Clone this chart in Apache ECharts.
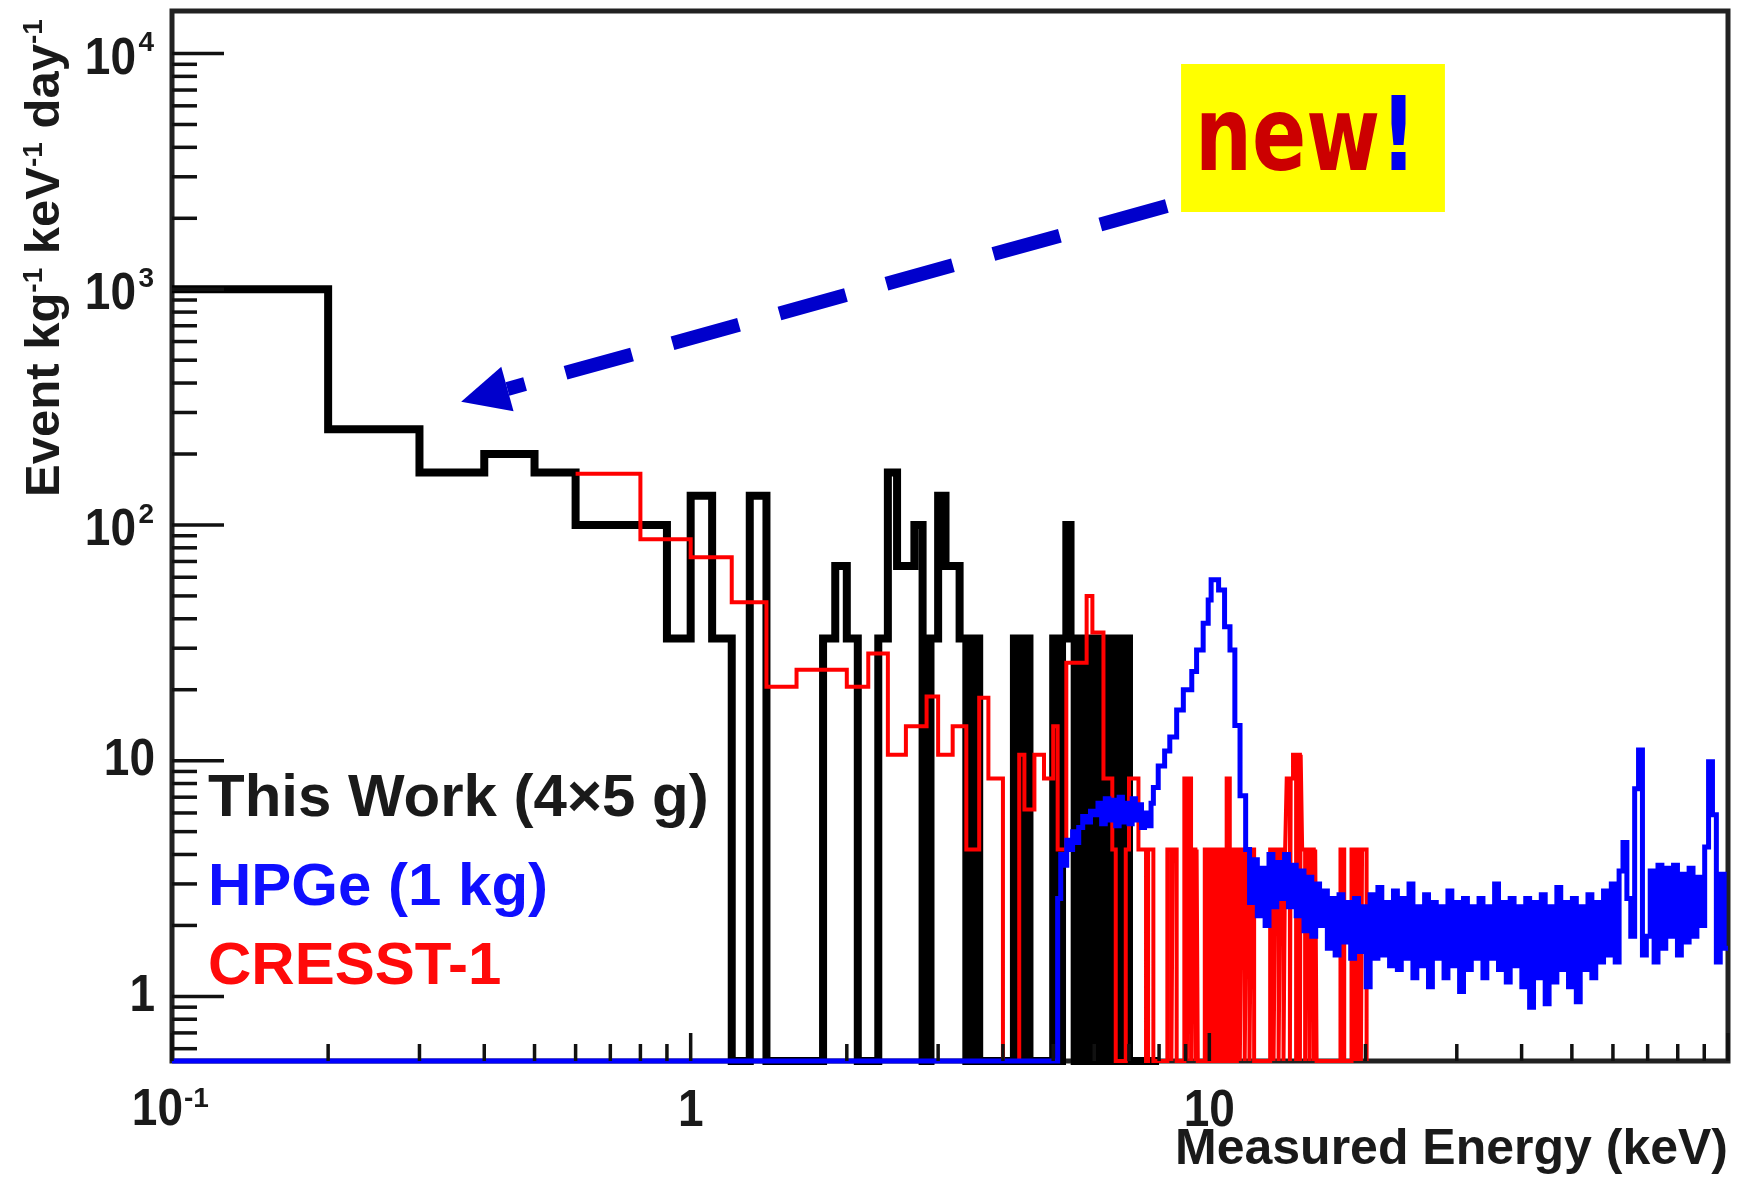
<!DOCTYPE html>
<html>
<head>
<meta charset="utf-8">
<title>Measured energy spectra</title>
<script src="https://cdn.jsdelivr.net/npm/echarts@6.0.0/dist/echarts.min.js"></script>
<style>
  html, body { margin: 0; padding: 0; background: #ffffff; }
  #chart { width: 1742px; height: 1178px; }
</style>
</head>
<body>
<div id="chart"></div>
<script>
// Axis ranges: energy in keV, rate in events kg^-1 keV^-1 day^-1
const X_MIN = 0.1, X_MAX = 100;
const Y_MIN = 0.532, Y_MAX = 15150;

// This Work (4×5 g): 0.1 keV wide bins starting at 0.1 keV
const thisWorkFirstEdge = 0.1;
const thisWorkBinWidth = 0.1;
const thisWorkRates = [
  1000, 255, 167, 200, 167, 100, 100, 100, 33, 133,   // bins from 0.1 .. 1.0 keV
  33, 0, 133, 0, 0, 0, 0, 33, 67, 33,                 // 1.1 .. 2.0
  0, 0, 33, 167, 67, 67, 100, 0, 33, 133,             // 2.1 .. 3.0
  67, 67, 33, 0, 33, 0, 0, 0, 0, 0,                   // 3.1 .. 4.0
  0, 33, 0, 33, 0, 0, 0, 0, 0, 33,                    // 4.1 .. 5.0
  0, 33, 100, 33, 0, 33, 0, 33, 0, 33,                // 5.1 .. 6.0
  0, 33, 0, 33, 0, 33, 0, 33, 33, 0,                  // 6.1 .. 7.0
  0, 0, 0, 0, 0, 0, 0, 0, 0                           // 7.1 .. 7.9
];

// CRESST-1: bin edges (keV, last entry closes the final bin) and rates
const cresstEdges = [
  0.6, 0.8, 1.0, 1.2, 1.4, 1.6, 2.0, 2.2, 2.4, 2.6,
  2.85, 3.0, 3.2, 3.4, 3.6, 3.75, 4.0, 4.3, 4.4, 4.6,
  4.8, 5.0, 5.1, 5.3, 5.8, 5.95, 6.25, 6.5, 6.6, 6.9,
  7.0, 7.3, 7.55, 7.62, 7.8, 8.3, 8.45, 8.5, 8.65, 8.95,
  9.05, 9.12, 9.22, 9.3, 9.4, 9.45, 9.5, 9.8, 9.95, 10.05,
  10.2, 10.3, 10.45, 10.55, 10.7, 10.8, 10.95, 11.05, 11.2, 11.3,
  11.45, 11.55, 11.7, 11.8, 11.95, 12.05, 12.2, 13.1, 13.3, 13.4,
  13.6, 13.7, 13.9, 14.0, 14.1, 14.3, 14.35, 14.5, 14.7, 14.75,
  14.95, 15.0, 15.1, 15.3, 15.4, 15.6, 15.7, 15.9, 16.0, 16.1,
  17.9, 18.2, 18.8, 19.0, 19.1, 19.3, 19.4, 19.6, 19.7, 20.1,
  20.15
];
const cresstRates = [
  165, 87, 73, 47, 20.6, 24.3, 20.6, 28.5, 10.6, 14,
  18.7, 10.6, 14, 4.2, 18.5, 8.4, 0, 10.6, 6.2, 10.6,
  8.4, 14, 4.2, 26, 50, 35, 8.4, 4.2, 0, 4.2,
  8.4, 4.2, 0, 4.2, 0, 4.2, 0, 4.2, 0, 8.4,
  0, 8.4, 0, 4.2, 0, 4.2, 0, 4.2, 0, 4.2,
  0, 4.2, 0, 4.2, 0, 8.4, 0, 4.2, 0, 4.2,
  0, 4.2, 0, 4.2, 0, 4.2, 0, 4.2, 0, 4.2,
  0, 4.2, 0, 4.2, 8.4, 0, 8.4, 10.6, 0, 10.6,
  0, 10.6, 4.2, 0, 4.2, 0, 4.2, 0, 4.2, 0,
  4.2, 0, 4.2, 0, 4.2, 0, 4.2, 0, 4.2, 0
];

// HPGe (1 kg) up to the end of the 10.4 keV Ge line
const hpgeEdges = [
  0.1, 5.1, 5.17, 5.24, 5.31, 5.38, 5.45, 5.52, 5.6, 5.7,
  5.8, 5.9, 6.0, 6.1, 6.2, 6.3, 6.4, 6.5, 6.6, 6.7,
  6.8, 6.9, 7.0, 7.1, 7.2, 7.3, 7.4, 7.5, 7.6, 7.72,
  7.8, 7.97, 8.2, 8.39, 8.65, 8.91, 9.25, 9.45, 9.73, 9.95,
  10.08, 10.42, 10.7, 10.96, 11.2, 11.46
];
const hpgeRates = [
  0, 2.6, 4.0, 3.6, 4.6, 4.2, 5.0, 4.5, 5.2, 5.8,
  5.5, 6.1, 5.9, 6.6, 5.4, 6.9, 5.6, 6.8, 5.3, 7.0,
  5.5, 6.6, 5.4, 6.9, 5.6, 6.5, 5.2, 6.0, 5.3, 6.6,
  7.7, 9.5, 11.0, 12.6, 16.4, 20.0, 23.9, 29.5, 38.3, 48,
  58.5, 53, 37, 29.5, 14.1, 7.1
];

// HPGe (1 kg) continuum from 11.75 keV to 100 keV in logarithmic bins
const hpgeContinuumStart = 11.75;
const hpgeContinuumLogWidth = 0.0075;
const hpgeContinuumRates = [
  4.2, 2.5, 3.8, 2.2, 3.5, 2.0, 4.0, 2.4, 3.7, 2.6,
  4.0, 2.4, 3.6, 2.2, 3.4, 1.9, 3.2, 1.8, 3.0, 2.0,
  2.8, 1.6, 2.6, 1.5, 2.7, 1.7, 2.5, 1.45, 2.6, 1.55,
  2.4, 1.1, 2.7, 1.45, 2.9, 1.5, 2.5, 1.35, 2.8, 1.3,
  2.6, 1.45, 3.0, 1.2, 2.4, 1.35, 2.7, 1.1, 2.5, 1.45,
  2.4, 1.2, 2.8, 1.35, 2.5, 1.05, 2.6, 1.3, 2.4, 1.45,
  2.6, 1.2, 2.4, 1.45, 3.0, 1.3, 2.5, 1.15, 2.6, 1.35,
  2.4, 1.1, 2.6, 0.9, 2.5, 1.2, 2.7, 0.93, 2.4, 1.15,
  2.9, 1.3, 2.5, 1.1, 2.6, 0.95, 2.4, 1.3, 2.7, 1.2,
  2.5, 1.4, 2.8, 1.5, 3.0, 1.4, 3.4, 4.5, 2.6, 1.8,
  7.6, 11.1, 1.5, 1.8, 3.4, 1.4, 3.6, 1.6, 3.5, 1.8,
  3.6, 1.5, 3.3, 1.7, 3.5, 1.8, 3.2, 2.0, 4.3, 9.9,
  5.9, 1.4, 3.3, 1.6
];

// Axis ticks and labels
const xMajorTicks = [0.1, 1, 10, 100];
const xMinorTicks = [0.2, 0.3, 0.4, 0.5, 0.6, 0.7, 0.8, 0.9,
                     2, 3, 4, 5, 6, 7, 8, 9,
                     20, 30, 40, 50, 60, 70, 80, 90];
const yMajorTicks = [1, 10, 100, 1000, 10000];
const yMinorTicks = [0.6, 0.7, 0.8, 0.9,
                     2, 3, 4, 5, 6, 7, 8, 9,
                     20, 30, 40, 50, 60, 70, 80, 90,
                     200, 300, 400, 500, 600, 700, 800, 900,
                     2000, 3000, 4000, 5000, 6000, 7000, 8000, 9000];
const xTickLabels = [[0.1, '10', '-1'], [1, '1', ''], [10, '10', '']];
const yTickLabels = [[1, '1', ''], [10, '10', ''], [100, '10', '2'], [1000, '10', '3'], [10000, '10', '4']];

// Call-out pointing at the lowest-energy bins
const arrowTail = [8.28, 2256];
const arrowTip = [0.361, 333];
const noteBoxTopLeft = [8.82, 9035];
const noteBoxBottomRight = [28.46, 2128];

const FONT = '"Liberation Sans", Arial, Helvetica, sans-serif';
const INK = '#1a1a1a';

// ---- build step outlines ------------------------------------------------
function stepPoints(edges, rates) {
  const pts = [];
  for (let i = 0; i < rates.length; i++) {
    pts.push([edges[i], Math.max(rates[i], Y_MIN)]);
  }
  pts.push([edges[rates.length], Math.max(rates[rates.length - 1], Y_MIN)]);
  return pts;
}

const thisWorkEdges = [];
for (let i = 0; i <= thisWorkRates.length; i++) {
  thisWorkEdges.push(+(thisWorkFirstEdge + i * thisWorkBinWidth).toFixed(4));
}

const hpgeAllEdges = hpgeEdges.slice();
for (let i = 0; i <= hpgeContinuumRates.length; i++) {
  const e = hpgeContinuumStart * Math.pow(10, i * hpgeContinuumLogWidth);
  hpgeAllEdges.push(Math.min(e, X_MAX));
}
const hpgeAllRates = hpgeRates.concat(hpgeContinuumRates);

// ---- renderers for ticks, labels and the call-out -----------------------
function tickText(text, x, y, align, size) {
  return {
    type: 'text', x: x, y: y, scaleY: size > 40 ? 1.12 : 1,
    style: {
      text: text, fill: INK, fontFamily: FONT, fontWeight: 'bold',
      fontSize: size, align: align, verticalAlign: 'middle'
    }
  };
}

function renderXTick(params, api) {
  const p = api.coord([api.value(0), Y_MIN]);
  const len = api.value(2) ? 28 : 17;
  return {
    type: 'line',
    shape: { x1: p[0], y1: p[1], x2: p[0], y2: p[1] - len },
    style: { stroke: '#111', lineWidth: 3.5 }
  };
}

function renderYTick(params, api) {
  const p = api.coord([X_MIN, api.value(1)]);
  const len = api.value(2) ? 52 : 25;
  return {
    type: 'line',
    shape: { x1: p[0], y1: p[1], x2: p[0] + len, y2: p[1] },
    style: { stroke: '#111', lineWidth: 3.5 }
  };
}

function renderXLabel(params, api) {
  const lab = xTickLabels[params.dataIndex];
  const p = api.coord([lab[0], Y_MIN]);
  const children = [];
  if (lab[2]) {
    children.push(tickText(lab[1], p[0] + 11, p[1] + 50, 'right', 46));
    children.push(tickText(lab[2], p[0] + 12, p[1] + 38, 'left', 28));
  } else {
    children.push(tickText(lab[1], p[0], p[1] + 51, 'center', 46));
  }
  return { type: 'group', children: children };
}

function renderYLabel(params, api) {
  const lab = yTickLabels[params.dataIndex];
  const p = api.coord([X_MIN, lab[0]]);
  const children = [];
  if (lab[2]) {
    children.push(tickText(lab[1], p[0] - 36, p[1] + 6, 'right', 46));
    children.push(tickText(lab[2], p[0] - 18, p[1] - 10, 'right', 28));
  } else {
    children.push(tickText(lab[1], p[0] - 17, p[1], 'right', 46));
  }
  return { type: 'group', children: children };
}

function renderCallout(params, api) {
  const t = api.coord(arrowTail);
  const h = api.coord(arrowTip);
  const dx = h[0] - t[0], dy = h[1] - t[1];
  const L = Math.hypot(dx, dy);
  const ux = dx / L, uy = dy / L;
  const headLen = 48, headHalf = 23;
  const bx = h[0] - ux * headLen, by = h[1] - uy * headLen;
  const a = api.coord(noteBoxTopLeft);
  const b = api.coord(noteBoxBottomRight);
  return {
    type: 'group',
    children: [
      {
        type: 'line',
        shape: { x1: t[0], y1: t[1], x2: bx, y2: by },
        style: { stroke: '#0000cc', lineWidth: 14, lineDash: [69, 42], lineCap: 'butt' }
      },
      {
        type: 'polygon',
        shape: { points: [
          [h[0], h[1]],
          [bx - uy * headHalf, by + ux * headHalf],
          [bx + uy * headHalf, by - ux * headHalf]
        ] },
        style: { fill: '#0000cc' }
      },
      {
        type: 'rect',
        shape: { x: a[0], y: a[1], width: b[0] - a[0], height: b[1] - a[1] },
        style: { fill: '#ffff00' }
      },
      {
        type: 'text', x: a[0] + 14, y: a[1] + 79, scaleY: 1.3,
        style: {
          text: '{n|new}{e|!}',
          align: 'left', verticalAlign: 'middle',
          rich: {
            n: { fill: '#cc0000', fontSize: 80, fontWeight: 'bold', fontFamily: '"DejaVu Sans", sans-serif' },
            e: { fill: '#0000ee', fontSize: 80, fontWeight: 'bold', fontFamily: '"DejaVu Sans", sans-serif' }
          }
        }
      }
    ]
  };
}

// ---- chart --------------------------------------------------------------
const chart = echarts.init(document.getElementById('chart'), null, { renderer: 'canvas' });

const hiddenAxis = {
  axisLine: { show: false }, axisTick: { show: false },
  axisLabel: { show: false }, splitLine: { show: false }
};

chart.setOption({
  animation: false,
  backgroundColor: '#ffffff',
  grid: {
    left: 172, right: 14, top: 11, bottom: 117,
    show: true, borderColor: '#222', borderWidth: 5, backgroundColor: 'transparent'
  },
  xAxis: Object.assign({ type: 'log', logBase: 10, min: X_MIN, max: X_MAX }, hiddenAxis),
  yAxis: Object.assign({ type: 'log', logBase: 10, min: Y_MIN, max: Y_MAX }, hiddenAxis),
  graphic: [
    {
      type: 'text', x: 208, y: 799,
      style: { text: 'This Work (4×5 g)', fill: INK, fontFamily: FONT, fontWeight: 'bold',
               fontSize: 60, align: 'left', verticalAlign: 'middle' }
    },
    {
      type: 'text', x: 208, y: 888,
      style: { text: 'HPGe (1 kg)', fill: '#0f0fff', fontFamily: FONT, fontWeight: 'bold',
               fontSize: 60, align: 'left', verticalAlign: 'middle' }
    },
    {
      type: 'text', x: 208, y: 967,
      style: { text: 'CRESST-1', fill: '#ff0a0a', fontFamily: FONT, fontWeight: 'bold',
               fontSize: 60, align: 'left', verticalAlign: 'middle' }
    },
    {
      type: 'text', x: 1728, y: 1150,
      style: { text: 'Measured Energy (keV)', fill: INK, fontFamily: FONT, fontWeight: 'bold',
               fontSize: 50, align: 'right', verticalAlign: 'middle' }
    },
    {
      type: 'text', x: 45, y: 258, rotation: Math.PI / 2,
      style: {
        text: '{a|Event kg}{s|-1}{a| keV}{s|-1}{a| day}{s|-1}',
        align: 'center', verticalAlign: 'middle',
        rich: {
          a: { fill: INK, fontFamily: FONT, fontWeight: 'bold', fontSize: 49 },
          s: { fill: INK, fontFamily: FONT, fontWeight: 'bold', fontSize: 28, verticalAlign: 'top' }
        }
      }
    }
  ],
  series: [
    {
      name: 'This Work (4×5 g)', type: 'line', step: 'end',
      data: stepPoints(thisWorkEdges, thisWorkRates),
      symbol: 'none', clip: false, silent: true,
      lineStyle: { color: '#000000', width: 8, join: 'miter', cap: 'butt' }
    },
    {
      name: 'CRESST-1', type: 'line', step: 'end',
      data: stepPoints(cresstEdges, cresstRates),
      symbol: 'none', clip: false, silent: true,
      lineStyle: { color: '#ff0000', width: 4, join: 'miter', cap: 'butt' }
    },
    {
      name: 'HPGe (1 kg)', type: 'line', step: 'end',
      data: stepPoints(hpgeAllEdges, hpgeAllRates),
      symbol: 'none', clip: false, silent: true,
      lineStyle: { color: '#0000ff', width: 5, join: 'miter', cap: 'butt' }
    },
    {
      name: 'x ticks', type: 'custom', silent: true, z: 5,
      dimensions: ['x', 'y', 'major'], encode: { x: 'x', y: 'y' },
      data: xMajorTicks.map(v => [v, Y_MIN, 1]).concat(xMinorTicks.map(v => [v, Y_MIN, 0])),
      renderItem: renderXTick
    },
    {
      name: 'y ticks', type: 'custom', silent: true, z: 5,
      dimensions: ['x', 'y', 'major'], encode: { x: 'x', y: 'y' },
      data: yMajorTicks.map(v => [X_MIN, v, 1]).concat(yMinorTicks.map(v => [X_MIN, v, 0])),
      renderItem: renderYTick
    },
    {
      name: 'x labels', type: 'custom', silent: true, z: 5,
      encode: { x: 0, y: 1 },
      data: xTickLabels.map(l => [l[0], Y_MIN]),
      renderItem: renderXLabel
    },
    {
      name: 'y labels', type: 'custom', silent: true, z: 5,
      encode: { x: 0, y: 1 },
      data: yTickLabels.map(l => [X_MIN, l[0]]),
      renderItem: renderYLabel
    },
    {
      name: 'call-out', type: 'custom', silent: true, z: 6,
      encode: { x: 0, y: 1 },
      data: [[1, 1]],
      renderItem: renderCallout
    }
  ]
});
</script>
</body>
</html>
